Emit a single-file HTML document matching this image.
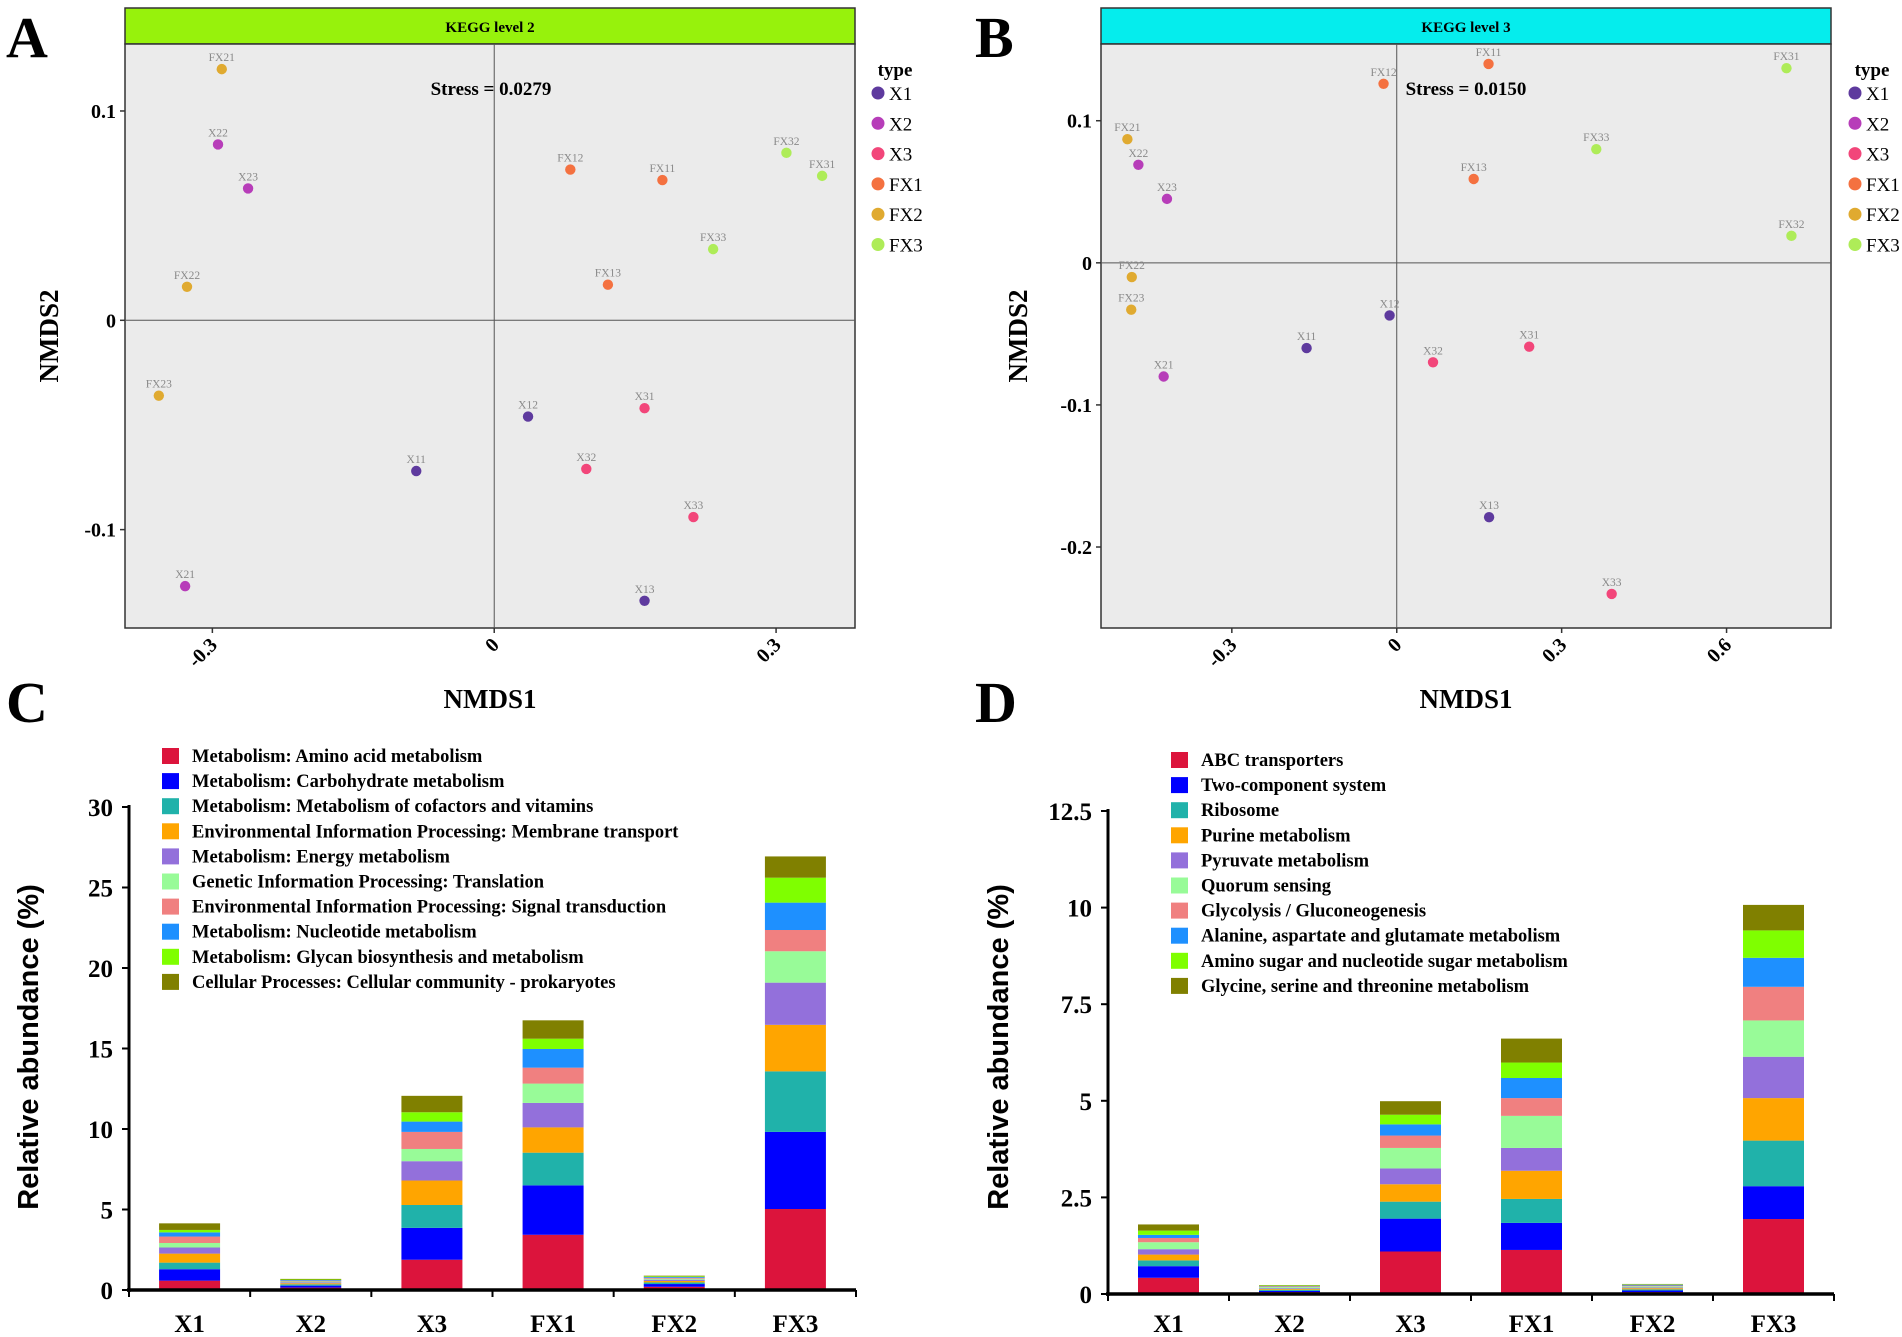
<!DOCTYPE html>
<html><head><meta charset="utf-8"><style>
html,body{margin:0;padding:0;background:#fff;}
svg{display:block;font-family:"Liberation Serif",serif;}
</style></head><body>
<svg id="fig" width="1902" height="1337" viewBox="0 0 1902 1337" xmlns="http://www.w3.org/2000/svg"></svg>
<script>
// ---------- DATA ----------
const groupNames = ["X1","X2","X3","FX1","FX2","FX3"];
const groupColors = ["#5e3a9e","#b73db9","#f2467a","#f47140","#e0aa30","#aeec58"];

const aLabels = ["FX21","X22","X23","FX22","FX23","X21","X11","X12","X13","X31","X32","X33","FX12","FX11","FX13","FX32","FX31","FX33"];
const aGroup  = [4,1,1,4,4,1,0,0,0,2,2,2,3,3,3,5,5,5];
const aX = [-0.290,-0.294,-0.262,-0.327,-0.357,-0.329,-0.083,0.036,0.160,0.160,0.098,0.212,0.081,0.179,0.121,0.311,0.349,0.233];
const aY = [0.120,0.084,0.063,0.016,-0.036,-0.127,-0.072,-0.046,-0.134,-0.042,-0.071,-0.094,0.072,0.067,0.017,0.080,0.069,0.034];
const aXTicks = [-0.3,0,0.3];
const aXTickLabels = ["-0.3","0","0.3"];
const aYTicks = [0.1,0,-0.1];
const aYTickLabels = ["0.1","0","-0.1"];

const bLabels = ["FX11","FX12","FX31","FX21","X22","X23","FX33","FX13","FX32","FX22","FX23","X12","X11","X21","X32","X31","X13","X33"];
const bGroup  = [3,3,5,4,1,1,5,3,5,4,4,0,0,1,2,2,0,2];
const bX = [0.167,-0.024,0.709,-0.490,-0.470,-0.418,0.363,0.140,0.718,-0.482,-0.483,-0.013,-0.164,-0.424,0.066,0.241,0.168,0.391];
const bY = [0.140,0.126,0.137,0.087,0.069,0.045,0.080,0.059,0.019,-0.010,-0.033,-0.037,-0.060,-0.080,-0.070,-0.059,-0.179,-0.233];
const bXTicks = [-0.3,0,0.3,0.6];
const bXTickLabels = ["-0.3","0","0.3","0.6"];
const bYTicks = [0.1,0,-0.1,-0.2];
const bYTickLabels = ["0.1","0","-0.1","-0.2"];

const barCategories = ["X1","X2","X3","FX1","FX2","FX3"];
const stackColors = ["#dc143c","#0000ff","#20b2aa","#ffa500","#9370db","#98fb98","#f08080","#1e90ff","#7fff00","#808000"];
const cSeriesNames = ["Metabolism: Amino acid metabolism","Metabolism: Carbohydrate metabolism","Metabolism: Metabolism of cofactors and vitamins","Environmental Information Processing: Membrane transport","Metabolism: Energy metabolism","Genetic Information Processing: Translation","Environmental Information Processing: Signal transduction","Metabolism: Nucleotide metabolism","Metabolism: Glycan biosynthesis and metabolism","Cellular Processes: Cellular community - prokaryotes"];
const cX1  = [0.58,0.71,0.41,0.56,0.38,0.28,0.40,0.26,0.15,0.41];
const cX2  = [0.15,0.12,0.08,0.07,0.06,0.05,0.05,0.04,0.03,0.04];
const cX3  = [1.88,1.98,1.42,1.52,1.20,0.76,1.06,0.64,0.58,1.02];
const cFX1 = [3.43,3.07,2.03,1.57,1.52,1.20,0.99,1.16,0.64,1.14];
const cFX2 = [0.20,0.17,0.10,0.09,0.08,0.06,0.06,0.05,0.04,0.04];
const cFX3 = [5.03,4.79,3.76,2.89,2.62,1.95,1.32,1.70,1.55,1.32];
const cTicks = [0,5,10,15,20,25,30];
const cTickLabels = ["0","5","10","15","20","25","30"];

const dSeriesNames = ["ABC transporters","Two-component system","Ribosome","Purine metabolism","Pyruvate metabolism","Quorum sensing","Glycolysis / Gluconeogenesis","Alanine, aspartate and glutamate metabolism","Amino sugar and nucleotide sugar metabolism","Glycine, serine and threonine metabolism"];
const dX1  = [0.42,0.30,0.15,0.15,0.14,0.18,0.11,0.08,0.11,0.16];
const dX2  = [0.05,0.03,0.03,0.02,0.02,0.03,0.02,0.01,0.01,0.01];
const dX3  = [1.10,0.85,0.44,0.45,0.41,0.53,0.32,0.29,0.25,0.35];
const dFX1 = [1.14,0.70,0.62,0.73,0.59,0.83,0.46,0.52,0.40,0.62];
const dFX2 = [0.05,0.04,0.03,0.03,0.02,0.03,0.02,0.02,0.01,0.01];
const dFX3 = [1.94,0.85,1.18,1.10,1.07,0.94,0.87,0.75,0.71,0.66];
const dTicks = [0,2.5,5,7.5,10,12.5];
const dTickLabels = ["0","2.5","5","7.5","10","12.5"];

// ---------- HELPERS ----------
const NS="http://www.w3.org/2000/svg";
const svg=document.getElementById('fig');
function mk(tag,attrs,parent,text){
  const e=document.createElementNS(NS,tag);
  for(const k in attrs) e.setAttribute(k,attrs[k]);
  if(text!==undefined) e.textContent=text;
  (parent||svg).appendChild(e);
  return e;
}
function lin(d0,d1,r0,r1){return v=>r0+(v-d0)*(r1-r0)/(d1-d0);}

// ---------- SCATTER PANELS ----------
function scatter(cfg){
  const g=mk('g',{});
  
  
  const sx=lin(cfg.xd[0],cfg.xd[1],cfg.x0,cfg.x1);
  const sy=lin(cfg.yd[0],cfg.yd[1],cfg.y1,cfg.y0);
  const L=mk('text',{x:cfg.letterX,y:57,'font-size':58,'font-weight':'bold'},g,cfg.letter);
  
  
  const strip=mk('rect',{x:cfg.x0,y:8,width:cfg.x1-cfg.x0,height:36,fill:cfg.strip,stroke:'#333','stroke-width':1.5},g);
  
  
  const st=mk('text',{x:(cfg.x0+cfg.x1)/2,y:32,'font-size':15,'font-weight':'bold','text-anchor':'middle'},g,cfg.title);
  
  
  const bg=mk('rect',{x:cfg.x0,y:cfg.y0,width:cfg.x1-cfg.x0,height:cfg.y1-cfg.y0,fill:'#ebebeb',stroke:'#333','stroke-width':1.5},g);
  
  
  mk('line',{x1:sx(0),x2:sx(0),y1:cfg.y0,y2:cfg.y1,stroke:'#555','stroke-width':1},g);
  mk('line',{x1:cfg.x0,x2:cfg.x1,y1:sy(0),y2:sy(0),stroke:'#555','stroke-width':1},g);
  cfg.xt.forEach((v,i)=>{
    const x=sx(v);
    mk('line',{x1:x,x2:x,y1:cfg.y1,y2:cfg.y1+5,stroke:'#333','stroke-width':1.5},g);
    const t=mk('text',{x:x+6,y:cfg.y1+18,'font-size':20,'font-weight':'bold','text-anchor':'end',transform:`rotate(-45 ${x+6} ${cfg.y1+18})`},g,cfg.xtl[i]);
    
    
  });
  cfg.yt.forEach((v,i)=>{
    const y=sy(v);
    mk('line',{x1:cfg.x0-5,x2:cfg.x0,y1:y,y2:y,stroke:'#333','stroke-width':1.5},g);
    const t=mk('text',{x:cfg.x0-9,y:y+7,'font-size':20,'font-weight':'bold','text-anchor':'end'},g,cfg.ytl[i]);
    
    
  });
  const xt=mk('text',{x:(cfg.x0+cfg.x1)/2,y:708,'font-size':27,'font-weight':'bold','text-anchor':'middle'},g,'NMDS1');
  
  
  const yy=(cfg.y0+cfg.y1)/2;
  const yt=mk('text',{x:cfg.ytX,y:yy,'font-size':27,'font-weight':'bold','text-anchor':'middle',transform:`rotate(-90 ${cfg.ytX} ${yy})`},g,'NMDS2');
  
  
  const sr=mk('text',{x:cfg.stressX,y:95,'font-size':19,'font-weight':'bold','text-anchor':'middle'},g,cfg.stress);
  
  
  cfg.labels.forEach((lab,i)=>{
    const x=sx(cfg.xs[i]),y=sy(cfg.ys[i]);
    const c=mk('circle',{cx:x,cy:y,r:5.2,fill:groupColors[cfg.grp[i]]},g);
    
    
    const t=mk('text',{x:x,y:y-8,'font-size':11.5,fill:'#8a8a8a','text-anchor':'middle'},g,lab);
    
    
  });
  const lg=mk('g',{},g);
  
  
  mk('text',{x:cfg.legX+17,y:76,'font-size':19,'font-weight':'bold','text-anchor':'middle'},lg,'type');
  groupNames.forEach((n,i)=>{
    const y=93+i*30.3;
    const e=mk('g',{},lg);
    
    
    mk('circle',{cx:cfg.legX,cy:y,r:6.5,fill:groupColors[i]},e);
    mk('text',{x:cfg.legX+11,y:y+7,'font-size':19},e,n);
  });
}
scatter({name:'panel-a-nmds-level2',letter:'A',letterX:6,title:'KEGG level 2',strip:'#97f20c',
  x0:125,x1:855,y0:44,y1:628,xd:[-0.393,0.384],yd:[-0.147,0.132],
  xt:aXTicks,xtl:aXTickLabels,yt:aYTicks,ytl:aYTickLabels,ytX:58,stressX:491,stress:'Stress = 0.0279',
  labels:aLabels,grp:aGroup,xs:aX,ys:aY,legX:878});
scatter({name:'panel-b-nmds-level3',letter:'B',letterX:975,title:'KEGG level 3',strip:'#05eded',
  x0:1101,x1:1831,y0:44,y1:628,xd:[-0.538,0.790],yd:[-0.257,0.154],
  xt:bXTicks,xtl:bXTickLabels,yt:bYTicks,ytl:bYTickLabels,ytX:1027,stressX:1466,stress:'Stress = 0.0150',
  labels:bLabels,grp:bGroup,xs:bX,ys:bY,legX:1855});

// ---------- BAR PANELS ----------
function bars(cfg){
  const g=mk('g',{});
  
  
  const L=mk('text',{x:cfg.letterX,y:722,'font-size':58,'font-weight':'bold'},g,cfg.letter);
  
  
  const sy=lin(0,cfg.max,cfg.yb,cfg.yt);
  const n=barCategories.length;
  const step=(cfg.x1-cfg.x0)/n;
  cfg.data.forEach((vals,ci)=>{
    const cx=cfg.x0+step*(ci+0.5);
    let acc=0;
    vals.forEach((v,si)=>{
      const yTop=sy(acc+v),yBot=sy(acc);
      const r=mk('rect',{x:cx-30.5,y:yTop,width:61,height:Math.max(0,yBot-yTop),fill:stackColors[si]},g);
      
      
      acc+=v;
    });
    const t=mk('text',{x:cx,y:1332,'font-size':25,'font-weight':'bold','text-anchor':'middle'},g,barCategories[ci]);
    
    
  });
  mk('line',{x1:cfg.x0,x2:cfg.x0,y1:cfg.yt-2,y2:cfg.yb+2,stroke:'#000','stroke-width':3},g);
  mk('line',{x1:cfg.x0-2,x2:cfg.x1,y1:cfg.yb,y2:cfg.yb,stroke:'#000','stroke-width':3.5},g);
  for(let i=0;i<=n;i++){
    const x=cfg.x0+step*i;
    mk('line',{x1:x,x2:x,y1:cfg.yb,y2:cfg.yb+7,stroke:'#000','stroke-width':2},g);
  }
  cfg.ticks.forEach((v,i)=>{
    const y=sy(v);
    mk('line',{x1:cfg.x0-7,x2:cfg.x0,y1:y,y2:y,stroke:'#000','stroke-width':2},g);
    const t=mk('text',{x:cfg.x0-16,y:y+9,'font-size':25,'font-weight':'bold','text-anchor':'end'},g,cfg.tickLabels[i]);
    
    
  });
  const yc=1047;
  const yt=mk('text',{x:cfg.ytX,y:yc,'font-size':29,'font-weight':'bold','text-anchor':'middle','font-family':'Liberation Sans, sans-serif',transform:`rotate(-90 ${cfg.ytX} ${yc})`},g,'Relative abundance (%)');
  
  
  const lg=mk('g',{},g);
  
  
  cfg.names.forEach((nm,i)=>{
    const y=cfg.legY+i*25.1;
    const e=mk('g',{},lg);
    
    
    mk('rect',{x:cfg.legX,y:y-8,width:17,height:16,fill:stackColors[i]},e);
    mk('text',{x:cfg.legX+30,y:y+6,'font-size':18.5,'font-weight':'bold'},e,nm);
  });
}
bars({name:'panel-c-level2-bars',letter:'C',letterX:6,x0:129,x1:856,yb:1290,yt:807,max:30,
  data:[cX1,cX2,cX3,cFX1,cFX2,cFX3],ticks:cTicks,tickLabels:cTickLabels,ytX:38,
  names:cSeriesNames,legX:162,legY:756});
bars({name:'panel-d-level3-bars',letter:'D',letterX:975,x0:1108,x1:1834,yb:1294,yt:811,max:12.5,
  data:[dX1,dX2,dX3,dFX1,dFX2,dFX3],ticks:dTicks,tickLabels:dTickLabels,ytX:1008,
  names:dSeriesNames,legX:1171,legY:760});
</script>
</body></html>
